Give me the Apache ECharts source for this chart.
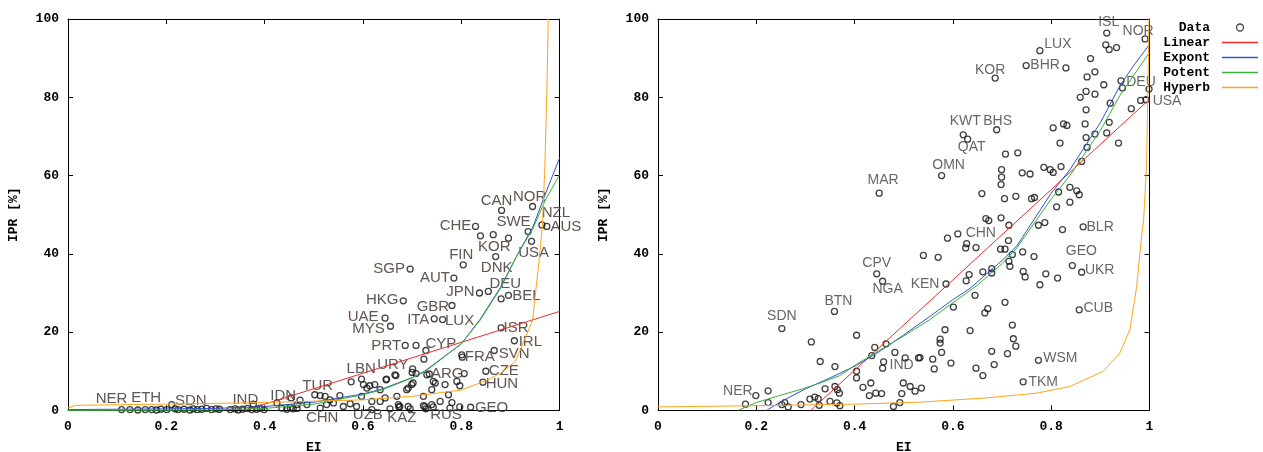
<!DOCTYPE html>
<html>
<head>
<meta charset="utf-8">
<script src="https://cdn.jsdelivr.net/npm/echarts@6/dist/echarts.min.js"></script>
<style>
html, body { margin: 0; padding: 0; background: #fff; }
#chart { width: 1263px; height: 452px; }
</style>
</head>
<body>
<div id="chart"></div>
<script>
// ---------- Panel 1: all countries (EI vs IPR) ----------
const leftNamedCode = ['NER','ETH','SDN','IND','IDN','TUR','CHN','LBN','UZB','URY','KAZ','RUS','GEO','ARG','CZE','HUN','FRA','SVN','ISR','IRL','CYP','PRT','MYS','UAE','ITA','LUX','GBR','HKG','JPN','DEU','BEL','AUT','SGP','FIN','DNK','KOR','SWE','USA','CHE','CAN','NOR','NZL','AUS'];
const leftNamedEI   = [0.109,0.157,0.211,0.377,0.454,0.502,0.513,0.576,0.618,0.667,0.673,0.777,0.819,0.806,0.850,0.844,0.801,0.867,0.881,0.908,0.728,0.686,0.656,0.645,0.745,0.762,0.781,0.682,0.837,0.855,0.896,0.785,0.696,0.804,0.870,0.865,0.896,0.943,0.829,0.882,0.945,0.964,0.974];
const leftNamedIPR  = [0.2,0.2,1.5,1.6,3.2,4.0,0.6,7.3,0.2,8.9,0.9,0.6,0.8,9.4,10.0,7.2,14.2,15.3,21.1,17.8,15.3,16.6,21.5,23.6,23.4,23.2,26.8,28.0,30.0,30.4,29.4,33.8,36.1,37.2,39.3,44.9,44.0,43.2,47.0,51.1,52.1,47.4,47.0];

const leftEI  = [0.126,0.142,0.170,0.180,0.189,0.201,0.218,0.224,0.236,0.248,0.255,0.263,0.272,0.282,0.292,0.301,0.308,0.330,0.340,0.346,0.355,0.365,0.374,0.384,0.391,0.399,0.435,0.445,0.452,0.458,0.466,
                 0.425,0.466,0.472,0.486,0.513,0.523,0.533,0.526,0.540,0.553,0.560,0.574,0.587,0.597,0.601,0.608,0.614,0.624,0.635,0.597,0.618,0.635,0.648,0.645,0.669,0.675,0.692,0.655,0.689,0.699,0.702,0.701,0.708,0.730,0.723,0.740,0.743,0.747,0.767,0.791,0.797,0.774,0.781,0.757,0.740,0.726,0.647,0.665,0.692,0.696,0.728,0.743,0.797,0.802,0.724,0.708,0.881,0.839,0.936,0.700,0.735,0.672,0.723];
const leftIPR = [0.2,0.1,0.2,0.1,0.3,0.2,0.4,0.2,0.3,0.1,0.4,0.2,0.3,0.5,0.2,0.4,0.3,0.2,0.4,0.1,0.3,0.5,0.2,0.3,0.6,0.2,0.6,0.3,0.7,0.4,0.5,
                 1.9,1.5,2.6,1.5,3.8,3.6,2.7,1.5,1.9,3.8,1.0,1.7,1.0,8.0,6.6,5.7,6.3,6.6,5.3,3.6,2.3,2.3,8.0,3.2,3.6,1.0,1.0,0.4,5.3,6.6,7.0,10.6,9.4,9.1,3.6,5.3,7.4,7.0,6.6,7.4,6.3,4.0,2.0,2.3,1.5,1.0,7.8,9.1,5.7,0.4,0.4,0.9,0.9,13.6,13.1,16.6,28.5,44.6,45.7,9.7,9.3,1.5,1.2];

// fitted curves, panel 1 (EI, IPR)
const leftLinear = [[0.36,0],[1.0,25.3]];
const leftExpont = [[0,0.2],[0.3,0.5],[0.4,1.0],[0.5,2.1],[0.6,4.2],[0.64,5.5],[0.7,8.4],[0.725,10],[0.8,17],[0.838,23.2],[0.879,31.3],[0.913,39.5],[0.946,47],[0.97,55],[1.0,64.5]];
const leftPotent = [[0,0],[0.3,0.1],[0.4,0.5],[0.5,1.6],[0.6,4.0],[0.64,5.3],[0.7,8.3],[0.725,9.8],[0.8,17],[0.838,23],[0.879,31],[0.913,39.5],[0.946,46.5],[0.97,53.5],[1.0,60.2]];
const leftHyperb = [[0,0.6],[0.015,1.3],[0.2,1.6],[0.4,2.0],[0.6,2.7],[0.7,3.6],[0.8,5.2],[0.85,7.6],[0.88,9.5],[0.91,12.5],[0.945,23],[0.958,38],[0.965,47],[0.97,62],[0.974,81],[0.977,100]];

// ---------- Panel 2 ----------
const rightNamedCode = ['ISL','NOR','LUX','BHR','KOR','DEU','USA','KWT','BHS','QAT','OMN','MAR','CHN','BLR','GEO','UKR','CUB','WSM','TKM','KEN','CPV','NGA','BTN','SDN','IND','NER'];
const rightNamedEI   = [0.913,0.991,0.777,0.749,0.686,0.942,0.993,0.621,0.689,0.630,0.577,0.450,0.610,0.865,0.843,0.862,0.857,0.774,0.743,0.586,0.445,0.457,0.359,0.252,0.459,0.199];
const rightNamedIPR  = [96.4,94.9,91.9,88.1,84.9,84.2,79.4,70.4,71.7,69.3,60.0,55.5,45.1,46.9,37.0,35.3,25.7,12.8,7.3,32.3,34.9,33.0,25.3,20.9,12.4,3.8];

const rightEI  = [0.911,0.918,0.933,0.830,0.880,0.889,0.873,0.907,0.945,0.999,0.871,0.889,0.859,0.920,0.982,0.871,0.963,0.804,0.825,0.832,0.869,0.918,0.889,0.871,0.913,0.818,0.937,0.873,0.707,0.732,0.862,
                  0.699,0.699,0.698,0.741,0.757,0.785,0.798,0.804,0.820,0.659,0.705,0.728,0.760,0.766,0.815,0.838,0.852,0.857,0.838,0.811,0.667,0.673,0.698,0.714,0.774,0.787,0.823,
                  0.589,0.628,0.626,0.647,0.713,0.697,0.706,0.721,0.742,0.765,0.714,0.716,0.540,0.570,0.661,0.679,0.679,0.743,0.747,0.789,0.813,0.777,0.633,0.627,
                  0.645,0.706,0.601,0.671,0.665,0.721,0.584,0.635,0.574,0.574,0.723,0.728,0.577,0.679,0.711,0.533,0.559,0.596,0.684,0.562,0.647,0.661,0.536,
                  0.178,0.224,0.224,0.252,0.258,0.265,0.291,0.309,0.319,0.326,0.328,0.312,0.330,0.340,0.350,0.360,0.360,0.365,0.369,0.364,0.370,
                  0.404,0.404,0.404,0.417,0.433,0.430,0.435,0.441,0.464,0.443,0.455,0.457,0.482,0.479,0.492,0.496,0.499,0.503,0.513,0.523,0.530];
const rightIPR = [93.4,92.2,92.7,87.5,89.9,86.5,85.2,83.2,82.4,82.1,81.5,80.8,80.0,78.5,79.2,76.8,77.1,72.2,73.2,72.8,73.2,73.6,70.6,69.7,70.9,68.3,68.3,67.2,65.5,65.8,63.6,
                  61.5,59.6,57.7,60.7,60.4,62.1,61.5,60.8,62.3,55.4,54.1,54.7,54.1,54.4,55.8,57.0,56.1,55.1,53.2,52.0,49.0,48.5,49.2,47.3,47.3,48.0,46.2,
                  44.0,42.6,41.5,41.6,43.4,41.2,41.2,39.8,40.5,39.3,38.1,36.8,39.6,39.1,35.4,36.2,35.1,35.5,34.1,34.9,33.8,32.1,34.7,33.1,
                  29.4,27.6,26.4,26.0,24.9,21.8,20.6,20.4,18.2,17.2,18.3,16.4,14.8,15.1,14.5,13.5,13.1,12.1,11.7,10.6,10.8,8.9,5.7,
                  1.6,5.0,2.0,1.5,2.0,0.9,1.5,2.9,3.4,3.0,1.3,17.5,12.5,5.5,2.3,11.2,6.1,5.3,4.4,1.9,1.2,
                  19.2,10.0,8.3,5.9,7.0,3.8,14.0,16.1,17.0,4.4,4.3,10.8,14.8,1.0,2.0,4.3,7.0,13.4,6.1,4.9,13.4];

// fitted curves, panel 2 (EI, IPR)
const rightLinear = [[0.311,0],[1.0,79.5]];
const rightExpont = [[0.221,0],[0.25,2.2],[0.3,5.5],[0.35,8.3],[0.404,11.5],[0.45,15],[0.5,19.3],[0.553,24],[0.6,28.3],[0.635,31.2],[0.7,38.3],[0.73,42],[0.8,55.5],[0.838,61.5],[0.9,73.5],[0.94,83],[0.97,88.5],[1.0,93.5]];
const rightPotent = [[0.163,0],[0.2,2],[0.25,3.9],[0.289,5.3],[0.33,7],[0.37,8.9],[0.404,11.8],[0.45,15.3],[0.5,19],[0.553,23.2],[0.6,27.5],[0.65,32],[0.7,37.5],[0.73,41.5],[0.8,54],[0.838,60],[0.9,71.5],[0.94,80.5],[0.97,86],[1.0,91.5]];
const rightHyperb = [[0,0.9],[0.2,1.2],[0.4,1.6],[0.533,2.1],[0.669,3.2],[0.77,4.4],[0.838,6.1],[0.906,10],[0.94,14.7],[0.96,20.6],[0.974,31.7],[0.984,44.5],[0.988,48.7],[0.994,62.3],[0.998,91.3],[0.999,100]];

const xTicks = { min: 0, max: 1, interval: 0.2 };
const yTicks = { min: 0, max: 100, interval: 20 };
const legendNames = ['Data', 'Linear', 'Expont', 'Potent', 'Hyperb'];

// ---------- label placement (text centre relative to marker, px) ----------
const leftLabelOffset = {
  NER:[-10,-11], ETH:[1,-12], SDN:[19,-4], IND:[-8,-4], IDN:[-8,-2], TUR:[3,-9], CHN:[2,10], LBN:[10,-13],
  UZB:[-4,5], URY:[-3,-11], KAZ:[3,11], RUS:[-4,7], GEO:[21,1], ARG:[-17,0], CZE:[18,0], HUN:[19,2],
  FRA:[18,2], SVN:[20,3], ISR:[15,0], IRL:[16,1], CYP:[15,-7], PRT:[-19,0], MYS:[-22,3], UAE:[-22,-1],
  ITA:[-16,1], LUX:[17,1], GBR:[-19,1], HKG:[-21,-1], JPN:[-19,-1], DEU:[17,-8], BEL:[18,1], AUT:[-19,0],
  SGP:[-21,0], FIN:[-2,-10], DNK:[1,11], KOR:[1,12], SWE:[5,-16], USA:[2,12], CHE:[-20,-1], CAN:[-5,-10],
  NOR:[-3,-10], NZL:[14,-12], AUS:[19,0]
};
const rightLabelOffset = {
  ISL:[2,-11], NOR:[-7,-8], LUX:[18,-7], BHR:[19,0], KOR:[-5,-8], DEU:[20,1], USA:[21,2], KWT:[2,-14],
  BHS:[1,-9], QAT:[4,8], OMN:[7,-10], MAR:[4,-13], CHN:[23,-1], BLR:[17,0], GEO:[9,-14], UKR:[18,-2],
  CUB:[19,-2], WSM:[22,-2], TKM:[20,0], KEN:[-21,0], CPV:[0,-11], NGA:[5,8], BTN:[4,-10], SDN:[0,-12],
  IND:[18,3], NER:[-18,-4]
};

const MONO = '"Liberation Mono", "DejaVu Sans Mono", monospace';
const SANS = '"Liberation Sans", Arial, sans-serif';
const COLORS = { Linear: '#ee2a2a', Expont: '#3354c8', Potent: '#3aae3a', Hyperb: '#ffa31a' };
const LINE_ICON = 'path://M0,0L36,0L36,1.3L0,1.3Z';
const MARKER = { color: 'rgba(255,255,255,0)', borderColor: '#111', borderWidth: 1.3 };

function pointData(ei, ipr, codes, namedEI, namedIPR, offsets) {
  const out = ei.map((e, i) => [e, ipr[i]]);
  codes.forEach((c, i) => {
    out.push({
      value: [namedEI[i], namedIPR[i]],
      label: { show: true, formatter: c, offset: offsets[c] }
    });
  });
  return out;
}

function xAxisFor(grid, isTop) {
  return {
    type: 'value', gridIndex: grid, position: isTop ? 'top' : 'bottom',
    min: xTicks.min, max: xTicks.max, interval: xTicks.interval,
    name: isTop ? '' : 'EI', nameLocation: 'middle', nameGap: 31,
    nameTextStyle: { fontFamily: MONO, fontWeight: 'bold', fontSize: 13, color: '#000' },
    axisLine: { show: true, onZero: false, lineStyle: { color: '#000', width: 1 } },
    axisTick: { show: true, inside: true, length: 5, lineStyle: { color: '#000' } },
    axisLabel: { show: !isTop, margin: 10, fontFamily: MONO, fontWeight: 'bold', fontSize: 13, color: '#000' },
    splitLine: { show: false }
  };
}
function yAxisFor(grid, isRight) {
  return {
    type: 'value', gridIndex: grid, position: isRight ? 'right' : 'left',
    min: yTicks.min, max: yTicks.max, interval: yTicks.interval,
    name: isRight ? '' : 'IPR [%]', nameLocation: 'middle', nameGap: 48, nameRotate: 90,
    nameTextStyle: { fontFamily: MONO, fontWeight: 'bold', fontSize: 13, color: '#000' },
    axisLine: { show: true, onZero: false, lineStyle: { color: '#000', width: 1 } },
    axisTick: { show: true, inside: true, length: 5, lineStyle: { color: '#000' } },
    axisLabel: { show: !isRight, margin: 9, fontFamily: MONO, fontWeight: 'bold', fontSize: 13, color: '#000' },
    splitLine: { show: false }
  };
}

function scatterSeries(grid, data, labelStyle) {
  return {
    name: 'Data', type: 'scatter', xAxisIndex: grid, yAxisIndex: grid,
    symbol: 'circle', symbolSize: 6, z: 2,
    itemStyle: MARKER,
    label: Object.assign({ position: 'inside' }, labelStyle),
    emphasis: { disabled: true },
    data: data
  };
}
function fitSeries(name, grid, data) {
  return {
    name: name, type: 'line', xAxisIndex: grid, yAxisIndex: grid,
    showSymbol: false, symbol: 'none', z: 3, clip: true,
    lineStyle: { color: COLORS[name], width: 1 },
    itemStyle: { color: COLORS[name] },
    emphasis: { disabled: true },
    data: data
  };
}

const leftLabelStyle = {
  fontFamily: SANS, fontSize: 15, color: '#33333f',
  textShadowColor: 'rgba(255,175,90,0.4)', textShadowBlur: 1
};
const rightLabelStyle = { fontFamily: SANS, fontSize: 14, color: '#3e3e3e' };

const legendData = legendNames.map(n => n === 'Data'
  ? { name: n, icon: 'circle', itemStyle: MARKER }
  : { name: n, icon: LINE_ICON,
      itemStyle: { color: COLORS[n], borderWidth: 0, borderColor: COLORS[n], opacity: 1 },
      lineStyle: { width: 0, opacity: 0 } });

const chart = echarts.init(document.getElementById('chart'), null, { renderer: 'canvas' });
chart.setOption({
  animation: false,
  backgroundColor: '#fff',
  grid: [
    { left: 68, top: 19, width: 491.6, height: 391.4, outerBoundsMode: 'none' },
    { left: 658, top: 19, width: 491.5, height: 391.4, outerBoundsMode: 'none' }
  ],
  xAxis: [xAxisFor(0, false), xAxisFor(1, false), xAxisFor(0, true), xAxisFor(1, true)],
  yAxis: [yAxisFor(0, false), yAxisFor(1, false), yAxisFor(0, true), yAxisFor(1, true)],
  legend: {
    orient: 'vertical', right: 5, top: 21, align: 'right', padding: 0,
    itemWidth: 36, itemHeight: 7, itemGap: 2,
    data: legendData,
    formatter: n => n.padStart(6, ' ') + '{g| }',
    textStyle: {
      fontFamily: MONO, fontWeight: 'bold', fontSize: 13, color: '#000', lineHeight: 13,
      rich: { g: { width: 7 } }
    },
    selectedMode: false
  },
  series: [
    scatterSeries(0, pointData(leftEI, leftIPR, leftNamedCode, leftNamedEI, leftNamedIPR, leftLabelOffset), leftLabelStyle),
    fitSeries('Linear', 0, leftLinear),
    fitSeries('Expont', 0, leftExpont),
    fitSeries('Potent', 0, leftPotent),
    fitSeries('Hyperb', 0, leftHyperb),
    scatterSeries(1, pointData(rightEI, rightIPR, rightNamedCode, rightNamedEI, rightNamedIPR, rightLabelOffset), rightLabelStyle),
    fitSeries('Linear', 1, rightLinear),
    fitSeries('Expont', 1, rightExpont),
    fitSeries('Potent', 1, rightPotent),
    fitSeries('Hyperb', 1, rightHyperb)
  ]
});
</script>
</body>
</html>
